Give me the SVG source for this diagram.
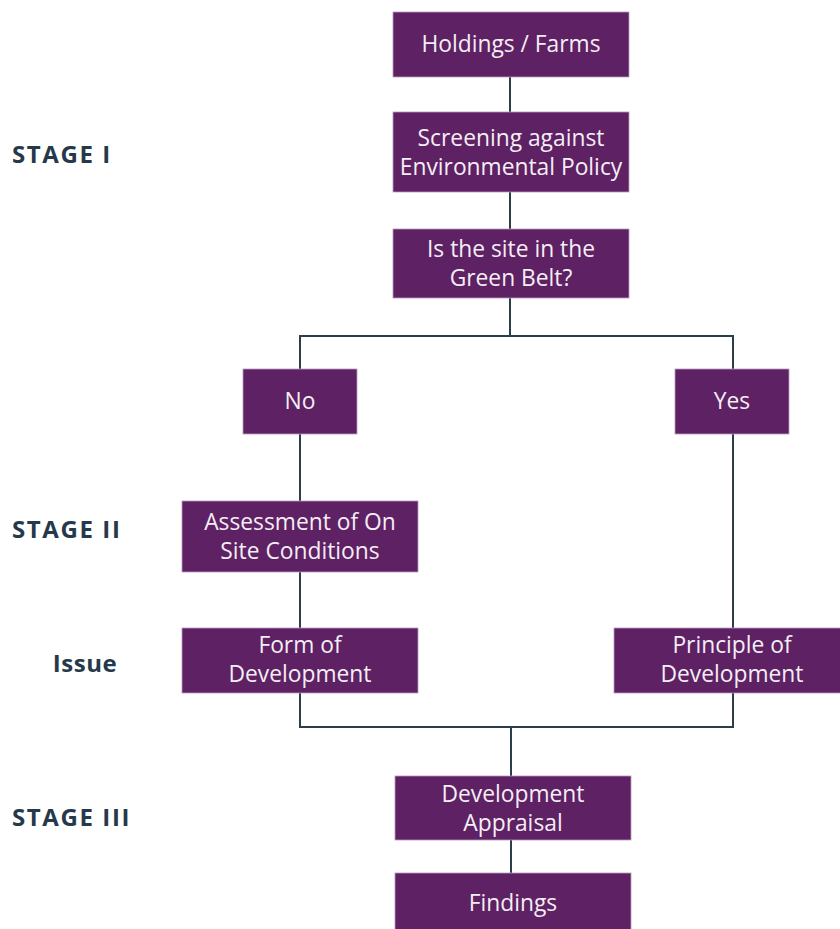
<svg xmlns="http://www.w3.org/2000/svg" width="840" height="929" viewBox="0 0 840 929">
<style>
.box{fill:#5e2163;stroke:#b89bbd;stroke-width:0.8}
.t{font-family:"Open Sans","Noto Sans","DejaVu Sans",sans-serif;font-size:22.8px;fill:#f4eef5;text-anchor:middle}
.stage{font-family:"Open Sans","Noto Sans","DejaVu Sans",sans-serif;font-size:24px;font-weight:bold;fill:#25394a;letter-spacing:1.6px}
.c{fill:none;stroke:#2c3e4a;stroke-width:2}
</style>
<rect width="840" height="929" fill="#ffffff"/>
<g id="connectors">
<line class="c" x1="510" y1="77" x2="510" y2="112"/>
<line class="c" x1="510" y1="192" x2="510" y2="229"/>
<polyline class="c" points="300,369 300,336 733,336 733,369"/>
<line class="c" x1="510" y1="298" x2="510" y2="336"/>
<line class="c" x1="300" y1="434" x2="300" y2="501"/>
<line class="c" x1="300" y1="572" x2="300" y2="628"/>
<line class="c" x1="733" y1="434" x2="733" y2="628"/>
<polyline class="c" points="300,693 300,727 733,727 733,693"/>
<line class="c" x1="511" y1="727" x2="511" y2="776"/>
<line class="c" x1="511" y1="840" x2="511" y2="873"/>
</g>
<g id="labels">
<text class="stage" x="12" y="163">STAGE I</text>
<text class="stage" x="12" y="538">STAGE II</text>
<text class="stage" x="85" y="672" text-anchor="middle" style="letter-spacing:0.5px">Issue</text>
<text class="stage" x="12" y="826">STAGE III</text>
</g>
<g id="holdings"><rect class="box" x="393" y="12" width="236" height="65"/><text class="t" x="511" y="52">Holdings / Farms</text></g>
<g id="screening"><rect class="box" x="393" y="112" width="236" height="80"/><text class="t" x="511" y="146">Screening against</text><text class="t" x="511" y="175">Environmental Policy</text></g>
<g id="greenbelt"><rect class="box" x="393" y="229" width="236" height="69"/><text class="t" x="511" y="257">Is the site in the</text><text class="t" x="511" y="286">Green Belt?</text></g>
<g id="no"><rect class="box" x="243" y="369" width="114" height="65"/><text class="t" x="300" y="409">No</text></g>
<g id="yes"><rect class="box" x="675" y="369" width="114" height="65"/><text class="t" x="732" y="409">Yes</text></g>
<g id="assessment"><rect class="box" x="182" y="501" width="236" height="71"/><text class="t" x="300" y="530">Assessment of On</text><text class="t" x="300" y="559">Site Conditions</text></g>
<g id="form"><rect class="box" x="182" y="628" width="236" height="65"/><text class="t" x="300" y="653">Form of</text><text class="t" x="300" y="682">Development</text></g>
<g id="principle"><rect class="box" x="614" y="628" width="236" height="65"/><text class="t" x="732" y="653">Principle of</text><text class="t" x="732" y="682">Development</text></g>
<g id="appraisal"><rect class="box" x="395" y="776" width="236" height="64"/><text class="t" x="513" y="802">Development</text><text class="t" x="513" y="831">Appraisal</text></g>
<g id="findings"><rect class="box" x="395" y="873" width="236" height="60"/><text class="t" x="513" y="911">Findings</text></g>
</svg>
